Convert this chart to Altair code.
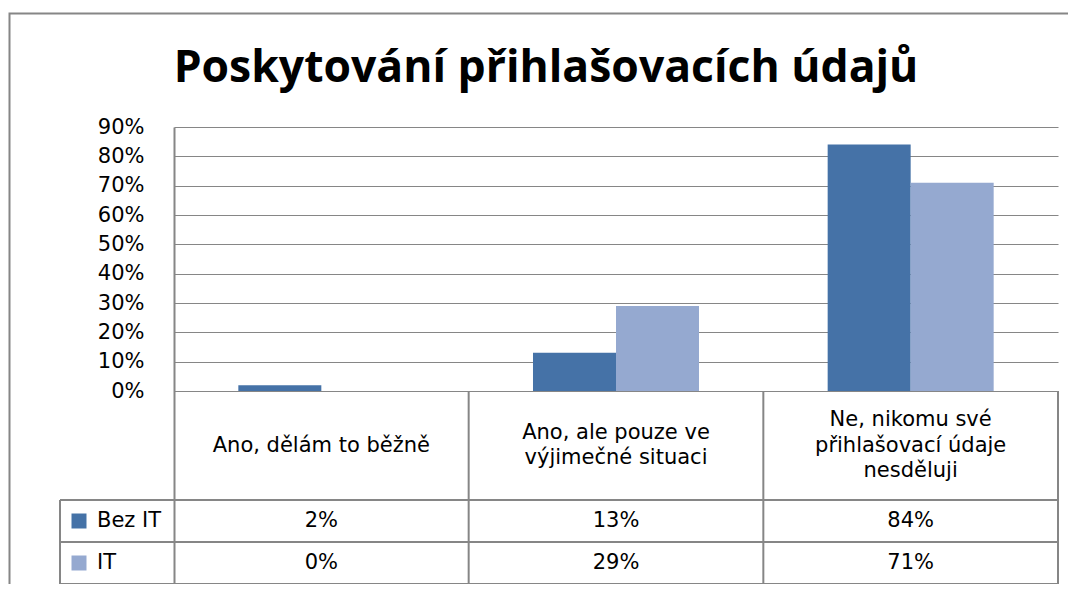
import altair as alt
import pandas as pd

# ---------------- data ----------------
title_text = "Poskytování přihlašovacích údajů"
categories = [
    "Ano, dělám to běžně",
    "Ano, ale pouze ve výjimečné situaci",
    "Ne, nikomu své přihlašovací údaje nesděluji",
]
category_lines = [
    ["Ano, dělám to běžně"],
    ["Ano, ale pouze ve", "výjimečné situaci"],
    ["Ne, nikomu své", "přihlašovací údaje", "nesděluji"],
]
series = ["Bez IT", "IT"]
bez_it = [2, 13, 84]
it_values = [0, 29, 71]
y_ticks = [0, 10, 20, 30, 40, 50, 60, 70, 80, 90]

# ---------------- layout / style ----------------
colors = ["#4572A7", "#95A9D0"]
line_col = "#868686"
FONT = "DejaVu Sans"
TITLE_FONT = "Open Sans"
FS = 21
PLOT_W = 884
PLOT_H = 457
PX = 264 / 90.0                  # pixels per percentage point
HEADER_BOTTOM = -109 / PX        # table row borders below the zero line (axis units)
ROW1_BOTTOM = -151 / PX
TABLE_BOTTOM = -193 / PX
LINE_H = 25.5 / PX               # header line spacing (axis units)
Y_TOP = 90

yscale = alt.Scale(domain=[TABLE_BOTTOM, Y_TOP], nice=False, zero=False)
xscale = alt.Scale(domain=categories, paddingInner=0, paddingOuter=0)
yaxis = alt.Axis(
    values=y_ticks,
    labelExpr="datum.value + '%'",
    title=None,
    grid=True,
    gridColor=line_col,
    gridWidth=1.2,
    gridOpacity=1,
    ticks=False,
    tickSize=0,
    domainColor=line_col,
    domainWidth=2,
    labelFont=FONT,
    labelFontSize=FS,
    labelColor="#000000",
    labelPadding=30,
)

values_by_series = {"Bez IT": bez_it, "IT": it_values}
bars_df = pd.DataFrame(
    [
        {"category": c, "series": s, "value": values_by_series[s][i]}
        for s in series
        for i, c in enumerate(categories)
    ]
)

row_center = {
    "Bez IT": (HEADER_BOTTOM + ROW1_BOTTOM) / 2,
    "IT": (ROW1_BOTTOM + TABLE_BOTTOM) / 2,
}
vals_df = bars_df.assign(
    label=bars_df["value"].astype(str) + "%",
    ypos=bars_df["series"].map(row_center),
)
header_rows = []
for c, lines in zip(categories, category_lines):
    n = len(lines)
    for k, t in enumerate(lines):
        header_rows.append(
            {"category": c, "label": t,
             "ypos": HEADER_BOTTOM / 2 + ((n - 1) / 2 - k) * LINE_H}
        )
header_df = pd.DataFrame(header_rows)
legend_df = pd.DataFrame({"series": series, "ypos": [row_center[s] for s in series]})
hrules_df = pd.DataFrame({"ypos": [HEADER_BOTTOM, ROW1_BOTTOM, TABLE_BOTTOM]})
vrules_df = pd.DataFrame({"category": categories[1:]})
one = pd.DataFrame({"a": [0]})


def X(**kw):
    return alt.X("category:N", sort=categories, scale=xscale, axis=None, **kw)


def Y(field):
    return alt.Y(field, scale=yscale, axis=yaxis, title=None)


def YD(v):
    return alt.YDatum(v, scale=yscale, axis=yaxis, title=None)


color = alt.Color("series:N", scale=alt.Scale(domain=series, range=colors), legend=None)

frame = alt.Chart(one).mark_rect(
    fillOpacity=0, stroke=line_col, strokeWidth=2
).encode(
    x=alt.value(-164.5), x2=alt.value(1200), y=alt.value(-113.5), y2=alt.value(800)
)

title_mark = alt.Chart(one).mark_text(
    text=title_text, font=TITLE_FONT, fontSize=44.5, fontWeight="bold",
    color="#000000", align="center", baseline="alphabetic",
).encode(x=alt.value(372), y=alt.value(-45))

bars = alt.Chart(bars_df).mark_bar().encode(
    x=X(),
    xOffset=alt.XOffset(
        "series:N", sort=series, scale=alt.Scale(paddingOuter=0.775, paddingInner=0)
    ),
    y=Y("value:Q"),
    color=color,
)

hrules = alt.Chart(hrules_df).mark_rule(color=line_col, strokeWidth=2).encode(
    y=Y("ypos:Q"), x=alt.value(-114), x2=alt.value(PLOT_W)
)

vrules = alt.Chart(vrules_df).mark_rule(color=line_col, strokeWidth=2).encode(
    x=X(bandPosition=0), y=YD(0), y2=alt.datum(TABLE_BOTTOM)
)
vrule_end = alt.Chart(pd.DataFrame({"category": categories[-1:]})).mark_rule(
    color=line_col, strokeWidth=2
).encode(x=X(bandPosition=1), y=YD(0), y2=alt.datum(TABLE_BOTTOM))
vrule_legend = alt.Chart(one).mark_rule(color=line_col, strokeWidth=2).encode(
    x=alt.value(-114), y=YD(HEADER_BOTTOM), y2=alt.datum(TABLE_BOTTOM)
)

header_text = alt.Chart(header_df).mark_text(
    font=FONT, fontSize=FS, color="#000000", baseline="middle"
).encode(x=X(), y=Y("ypos:Q"), text="label:N")

value_text = alt.Chart(vals_df).mark_text(
    font=FONT, fontSize=FS, color="#000000", baseline="middle"
).encode(x=X(), y=Y("ypos:Q"), text="label:N")

legend_sq = alt.Chart(legend_df).mark_square(size=225, opacity=1).encode(
    x=alt.value(-95), y=Y("ypos:Q"), color=color
)
legend_text = alt.Chart(legend_df).mark_text(
    font=FONT, fontSize=FS, color="#000000", align="left", baseline="middle"
).encode(x=alt.value(-77), y=Y("ypos:Q"), text="series:N")

chart = (
    alt.layer(
        bars, frame, title_mark, hrules, vrules, vrule_end, vrule_legend,
        header_text, value_text, legend_sq, legend_text,
    )
    .properties(
        width=PLOT_W,
        height=PLOT_H,
        autosize=alt.AutoSizeParams(type="none"),
        padding={"left": 166, "top": 119, "right": 10, "bottom": 0},
        background="#FFFFFF",
    )
    .configure_view(stroke=None)
)

chart.save("out.html", embed_options={"renderer": "svg", "actions": False})
